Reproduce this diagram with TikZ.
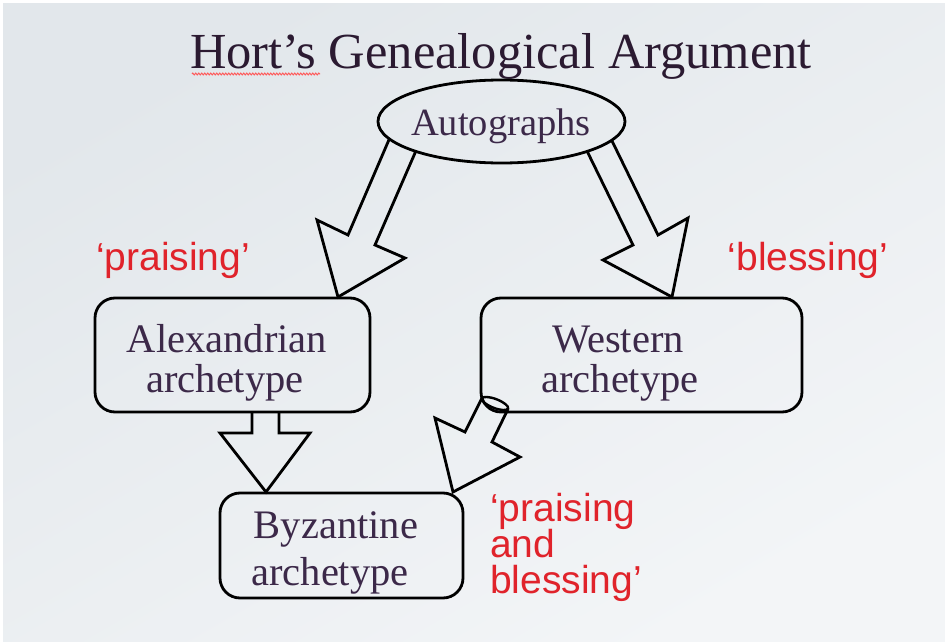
\documentclass[tikz,border=0pt]{standalone}
\usepackage{fontspec}
\setmainfont{Liberation Serif}
\newfontfamily\labelfont{Liberation Sans}
\usetikzlibrary{shapes.geometric,decorations.pathmorphing}
\definecolor{inkdark}{HTML}{2B1A31}
\definecolor{inknode}{HTML}{3C2949}
\definecolor{labelred}{HTML}{E0232B}
\definecolor{bgtop}{HTML}{E2E7EB}
\definecolor{bgbottom}{HTML}{F3F5F7}

\begin{document}
\begin{tikzpicture}[x=1pt,y=-1pt,
  outline/.style={line width=2.8pt, draw=black},
  boxnode/.style={outline, rectangle, rounded corners=20pt, inner sep=0pt},
  ovalnode/.style={outline, ellipse, inner sep=0pt},
  nodetext/.style={anchor=base, inner sep=0pt, text=inknode, font=\fontsize{40.5}{44}\selectfont},
  redlabel/.style={inner sep=0pt, text=labelred, font=\labelfont\fontsize{39}{36}\selectfont},
  blockarrow/.style={line width=2.8pt, draw=black, line join=miter, miter limit=10},
]
\useasboundingbox (0,0) rectangle (945,642);
% background
\fill[white] (0,0) rectangle (945,642);
\shade[top color=bgtop, bottom color=bgbottom, shading angle=30] (3,4) rectangle (945,642);

% title with its spell-check underline
\node[anchor=base, inner sep=0pt, text=inkdark, font=\fontsize{50.5}{56}\selectfont] (title) at (501,69) {Hort’s Genealogical Argument};
\draw[red!65!white, line width=1pt, decorate, decoration={zigzag, amplitude=0.9pt, segment length=3pt}] (192,74) -- (320,74);

% shapes
\node[ovalnode, minimum width=247pt, minimum height=83pt] (auto) at (501.5,121.5) {};
\node[boxnode, minimum width=275pt, minimum height=114pt] (alex) at (232.5,355) {};
\node[boxnode, minimum width=321pt, minimum height=114pt] (west) at (641.5,355) {};
\node[boxnode, minimum width=243pt, minimum height=105pt] (byz) at (341.5,545.5) {};

% texts
\node[nodetext, font=\fontsize{38.5}{42}\selectfont] (autotext) at (501,135) {Autographs};
\node[nodetext] (alexA) at (227,352) {Alexandrian};
\node[nodetext] (alexB) at (225,392) {archetype};
\node[nodetext] (westA) at (618,352) {Western};
\node[nodetext] (westB) at (620,392) {archetype};
\node[nodetext] (byzA) at (336,538) {Byzantine};
\node[nodetext] (byzB) at (330,585) {archetype};

% block arrows
\draw[blockarrow] (389.3,139.0) -- (348,235) -- (317,220) -- (338,297) -- (405,258) -- (375,245) -- (415.7,151.4);
\draw[blockarrow] (587.2,151.4) -- (633,245) -- (603,260) -- (672,297) -- (688,218) -- (658,235) -- (611.7,140.3);
\draw[blockarrow] (252,412) -- (252,433) -- (220,433) -- (266,492) -- (310,433) -- (279,433) -- (279,412);
\draw[blockarrow] (482,398) -- (465,432) -- (435,418) -- (453,492) -- (520,457) -- (492,442) -- (508,409);
\draw[line width=2.4pt, rotate around={-21:(495,403.5)}] (495,403.5) ellipse [x radius=14, y radius=4.5];

% red labels
\node[redlabel, anchor=base] (praising) at (173,270) {‘praising’};
\node[redlabel, anchor=base] (blessing) at (808,270) {‘blessing’};
\node[redlabel, anchor=base west] (bothA) at (490,521) {‘praising};
\node[redlabel, anchor=base west] (bothB) at (490,557) {and};
\node[redlabel, anchor=base west] (bothC) at (490,593) {blessing’};
\end{tikzpicture}
\end{document}
